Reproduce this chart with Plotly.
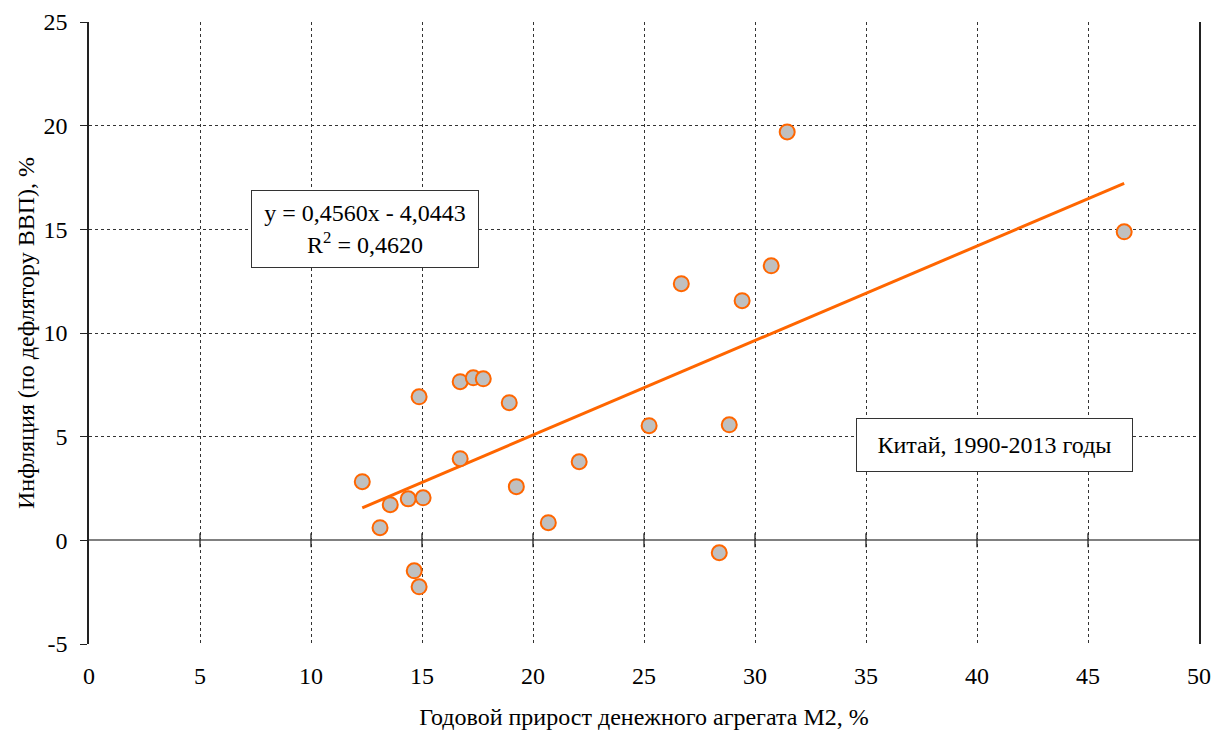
import plotly.graph_objects as go

# Data: China 1990-2013
m2_growth = [12.31, 13.11, 13.57, 14.38, 15.05, 14.87, 14.65, 14.87, 16.72, 17.31,
             17.76, 16.72, 18.93, 19.25, 20.69, 22.08, 25.23, 26.68, 28.39, 28.84,
             29.42, 30.73, 31.45, 46.63]
inflation = [2.83, 0.61, 1.72, 2.00, 2.05, 6.92, -1.47, -2.24, 7.65, 7.84,
             7.79, 3.94, 6.64, 2.59, 0.85, 3.79, 5.53, 12.38, -0.60, 5.57,
             11.56, 13.24, 19.70, 14.88]
slope = 0.4560
intercept = -4.0443
eq_text = "y = 0,4560x - 4,0443<br>R<sup>2</sup> = 0,4620"
label_text = "Китай, 1990-2013 годы"
x_ticks = [0, 5, 10, 15, 20, 25, 30, 35, 40, 45, 50]
y_ticks = [-5, 0, 5, 10, 15, 20, 25]
y_ticktext = ["-5", "0", "5", "10", "15", "20", "25"]
x_title = "Годовой прирост денежного агрегата М2, %"
y_title = "Инфляция (по дефлятору ВВП), %"

FONT = "'Times New Roman', 'Liberation Serif', Tinos, 'DejaVu Serif', serif"
ORANGE = "#FF6600"

x_min, x_max = min(m2_growth), max(m2_growth)
trend_x = [x_min, x_max]
trend_y = [slope * v + intercept for v in trend_x]

fig = go.Figure()

# zero-line tick marks (x axis crosses at y=0)
fig.add_trace(go.Scatter(
    x=x_ticks[1:-1], y=[0] * (len(x_ticks) - 2), mode="markers",
    marker=dict(symbol="line-ns", size=10, line=dict(color="#222222", width=1.3)),
    hoverinfo="skip", showlegend=False))

fig.add_trace(go.Scatter(
    x=trend_x, y=trend_y, mode="lines",
    line=dict(color=ORANGE, width=3), showlegend=False))

fig.add_trace(go.Scatter(
    x=m2_growth, y=inflation, mode="markers",
    marker=dict(size=15, color="#C0C0C0", line=dict(color=ORANGE, width=2)),
    showlegend=False))

fig.update_layout(
    width=1214, height=735,
    margin=dict(l=89, r=15, t=22, b=91),
    paper_bgcolor="white", plot_bgcolor="white",
    font=dict(family=FONT, size=24, color="black"),
    xaxis=dict(range=[0, 50], tickvals=x_ticks, ticks="", showline=False,
               ticklabelstandoff=15, automargin=False,
               showgrid=True, gridcolor="#333333", griddash="dot", gridwidth=1,
               zeroline=False, tickfont=dict(size=24),
               title=dict(text=x_title, font=dict(size=24), standoff=20)),
    yaxis=dict(range=[-5, 25], tickvals=y_ticks, ticktext=y_ticktext,
               ticks="outside", ticklen=7, ticklabelstandoff=8, automargin=False,
               tickcolor="#222222", showline=True, linecolor="#222222", linewidth=1.5,
               mirror=True,
               showgrid=True, gridcolor="#333333", griddash="dot", gridwidth=1,
               zeroline=True, zerolinecolor="#808080", zerolinewidth=1.5,
               tickfont=dict(size=24),
               title=dict(text=y_title, font=dict(size=24), standoff=2)),
    annotations=[
        dict(text=eq_text, xref="paper", yref="paper", x=0.2486, y=0.6677,
             xanchor="center", yanchor="middle", showarrow=False, align="center",
             font=dict(size=24), bgcolor="white", bordercolor="#333333",
             borderwidth=1, width=224, height=74),
        dict(text=label_text, xref="paper", yref="paper", x=0.8158, y=0.3204,
             xanchor="center", yanchor="middle", showarrow=False,
             font=dict(size=24), bgcolor="white", bordercolor="#333333",
             borderwidth=1, width=273, height=50),
    ],
)

fig.write_html("out.html")
